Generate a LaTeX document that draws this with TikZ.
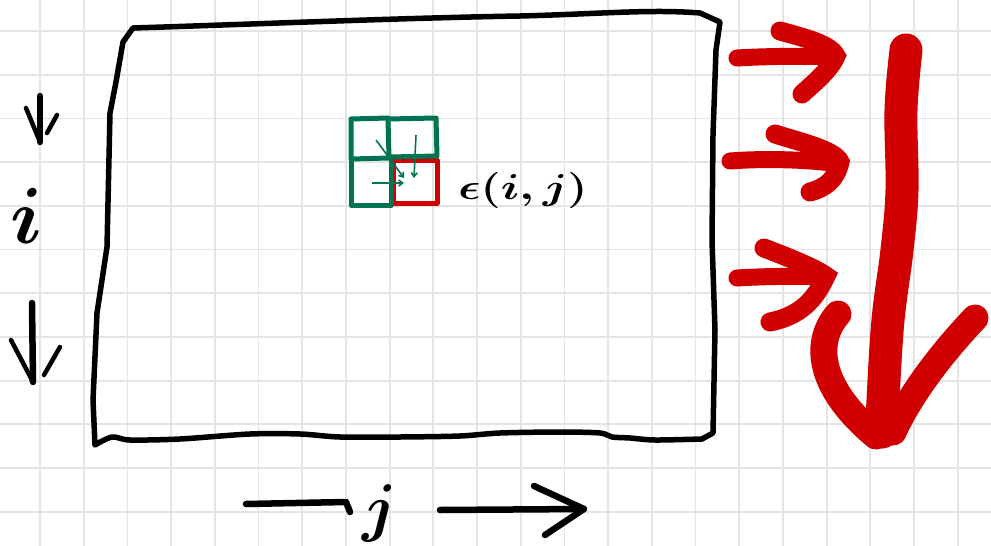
\documentclass[tikz,border=0pt]{standalone}
\usepackage{tikz}
\usetikzlibrary{arrows.meta}
\definecolor{gridgray}{RGB}{228,228,228}
\definecolor{sketchred}{RGB}{208,0,0}
\definecolor{sketchgreen}{RGB}{0,116,82}
\tikzset{
  gridline/.style={draw=gridgray,line width=1.8pt},
  boxline/.style={draw=black,line width=5.5pt,line join=round,line cap=round},
  blackstroke/.style={draw=black,line width=6.5pt,line cap=round,line join=round},
  blackwing/.style={draw=black,line width=4.5pt,line cap=round},
  redstroke/.style={draw=sketchred,line width=17pt,line cap=round,line join=round},
  redwing/.style={draw=sketchred,line width=19pt,line cap=round},
  bigshaft/.style={draw=sketchred,line width=33pt,line cap=round,line join=round},
  bigwing/.style={draw=sketchred,line width=27pt,line cap=round},
  greencell/.style={draw=sketchgreen,line width=5pt,line join=round,line cap=round},
  redcell/.style={draw=sketchred,line width=5pt,line join=round,line cap=round},
  greenarrow/.style={draw=sketchgreen,line width=1.6pt,-{Straight Barb[length=4pt,width=6pt]}},
  label/.style={inner sep=0pt,text=black}
}
\begin{document}
\begin{tikzpicture}[x=1pt,y=-1pt]
\useasboundingbox (0,0) rectangle (991,546);
\fill[white] (0,0) rectangle (991,546);
% grid
\foreach \k in {0,...,21} \draw[gridline] ({40+43.7*\k},0) -- ({40+43.7*\k},546);
\foreach \k in {0,...,11} \draw[gridline] (0,{31+43.7*\k}) -- (991,{31+43.7*\k});
% hand-drawn box
\draw[boxline] (133,28) .. controls (260,24) and (400,18) .. (520,16)
  .. controls (600,14) and (650,9) .. (700,13) -- (720,22)
  -- (716,50) -- (713,135) -- (712,240) -- (715,330) -- (713,433) -- (702,439)
  -- plot[smooth,tension=0.5] coordinates {(702,439) (655,440) (630,438) (612,437) (600,433) (560,432) (500,433) (460,436) (400,437) (340,437) (300,434) (250,434) (180,439) (130,440) (112,437) (95,445)}
  -- (93,400) -- (97,313) -- (107,247) -- (110,113) -- (116,82) -- (123,42) -- cycle;
% small cells
\draw[redcell] (393,160) rectangle (437,203);
\draw[greencell] (351,119) -- (388,118) -- (389,158) -- (351,159) -- cycle;
\draw[greencell] (388,119) -- (436,118) -- (437,156) -- (389,157);
\draw[greencell] (351,159) -- (351,205) -- (391,205) -- (391,158);
\draw[greenarrow] (376,140) -- (404,178);
\draw[greenarrow] (416,135) -- (414,178);
\draw[greenarrow] (372,183) -- (404,183);
\node[label] (eps) at (523,190) {\scalebox{1.85}[1.45]{\Huge\boldmath$\epsilon(i,j)$}};
% left i with arrows
\draw[blackstroke] (40,96) -- (40,142);
\draw[blackwing] (26,108) -- (40,142);
\draw[blackwing] (57,115) -- (47,133);
\node[label] (ilabel) at (27,216) {\scalebox{3.2}{\Huge\boldmath$i$}};
\draw[blackstroke] (32,303) -- (33,382);
\draw[blackwing] (11,340) -- (33,382);
\draw[blackwing] (60,347) -- (44,375);
% bottom j with arrows
\draw[blackstroke] (246,504) -- (346,502) -- (350,512);
\node[label] (jlabel) at (380,513) {\scalebox{2.6}{\Huge\boldmath$j$}};
\draw[blackstroke] (440,510) -- (584,509);
\draw[blackstroke] (534,486) -- (584,509) -- (545,535);
% red arrows
\draw[redstroke] (737,58) .. controls (770,56) and (810,56) .. (836,57);
\draw[redwing] (780,31) .. controls (805,38) and (830,44) .. (836,56) .. controls (830,70) and (815,82) .. (802,94);
\draw[redstroke] (730,161) .. controls (770,158) and (810,160) .. (840,164);
\draw[redwing] (775,134) .. controls (800,142) and (835,150) .. (840,162) .. controls (836,180) and (825,188) .. (810,192);
\draw[redstroke] (737,278) .. controls (770,276) and (805,276) .. (826,277);
\draw[redwing] (764,248) .. controls (790,258) and (815,268) .. (826,276) .. controls (815,300) and (800,316) .. (770,322);
% big red arrow
\draw[bigshaft] plot[smooth,tension=0.6] coordinates {(906,50) (901,110) (902,190) (897,250) (888,320) (883,400) (882,432)};
\draw[bigwing] (838,314) .. controls (815,340) and (815,385) .. (876,436);
\draw[bigwing] (975,318) .. controls (940,355) and (910,395) .. (893,432);
\end{tikzpicture}
\end{document}
